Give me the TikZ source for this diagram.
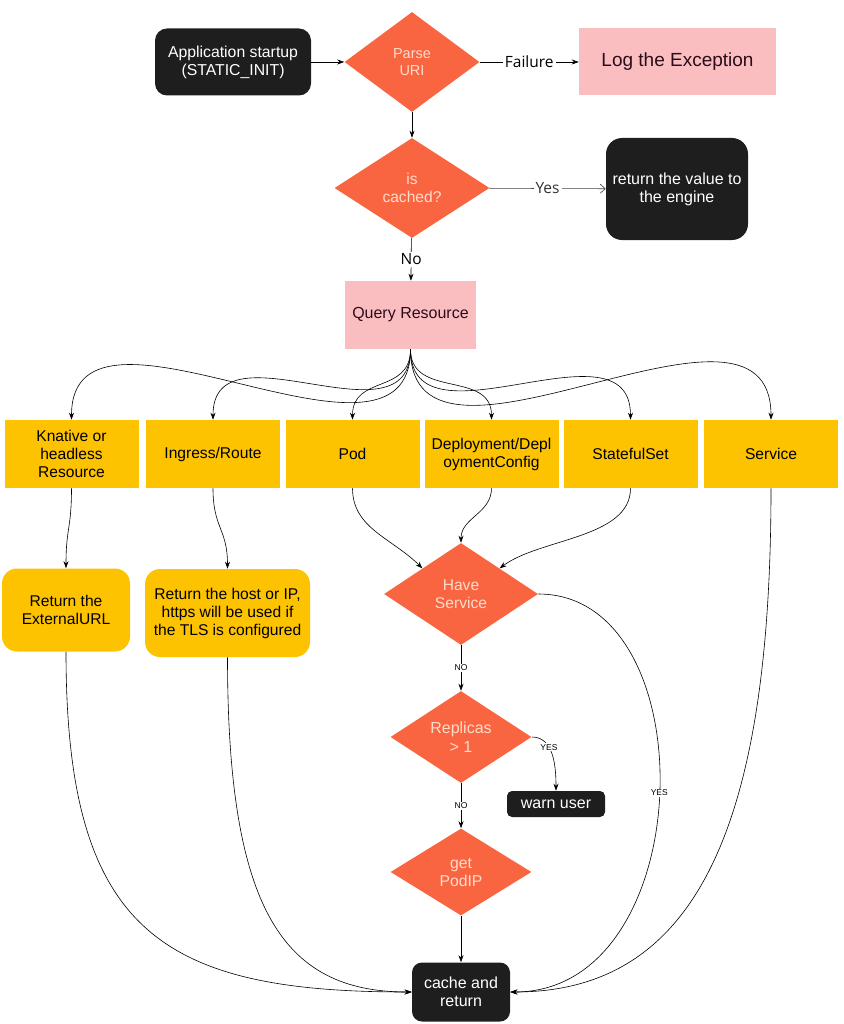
\documentclass[tikz,border=0pt]{standalone}
\usepackage{fontspec}
\setmainfont{Liberation Sans}
\newfontfamily\labelfont{Open Sans}
\usetikzlibrary{shapes.geometric,arrows.meta}
\definecolor{boxblack}{HTML}{1E1E1E}
\definecolor{decorange}{HTML}{FA6541}
\definecolor{dectext}{HTML}{FFDCCB}
\definecolor{boxpink}{HTML}{FBBEC0}
\definecolor{pinktext}{HTML}{2B0C1A}
\definecolor{boxyellow}{HTML}{FDC300}
\begin{document}
\begin{tikzpicture}[x=1pt,y=-1pt,line width=0.6pt,
  >={Stealth[length=7pt,width=5pt]},
  blackbox/.style={fill=boxblack,text=white,rounded corners=12pt,inner sep=2pt,align=center,font=\fontsize{15.8}{18}\selectfont},
  decision/.style={diamond,fill=decorange,text=dectext,inner sep=0pt,align=center,font=\fontsize{15.6}{18}\selectfont},
  pinkbox/.style={fill=boxpink,text=pinktext,align=center},
  kindbox/.style={fill=boxyellow,minimum width=134pt,minimum height=68pt,inner sep=1pt,align=center,font=\fontsize{15.6}{18}\selectfont},
  retbox/.style={fill=boxyellow,rounded corners=15pt,inner sep=1pt,align=center,font=\fontsize{15.6}{18}\selectfont},
  edgelabel/.style={fill=white,font=\labelfont\fontsize{15.5}{17}\selectfont,inner sep=2pt},
  smalllabel/.style={fill=white,font=\fontsize{8.5}{9}\selectfont,inner sep=1pt}]
\useasboundingbox (0,0) rectangle (843,1024);
\node[blackbox,minimum width=156pt,minimum height=67pt] (start) at (233,62) {Application startup\\(STATIC\_INIT)};
\node[decision,minimum width=135pt,minimum height=100pt,font=\fontsize{14.5}{17}\selectfont] (parse) at (412,62) {Parse\\URI};
\node[pinkbox,minimum width=197pt,minimum height=67pt,font=\fontsize{19}{22}\selectfont] (log) at (677.5,62) {Log the Exception};
\node[decision,minimum width=155pt,minimum height=100pt] (cached) at (412,188) {is\\cached?};
\node[blackbox,minimum width=142pt,minimum height=102pt,rounded corners=16pt,font=\fontsize{16}{18}\selectfont] (retval) at (677,189) {return the value to\\the engine};
\node[pinkbox,minimum width=131pt,minimum height=68pt,font=\fontsize{16}{18}\selectfont] (query) at (410.5,315) {Query Resource};
\foreach \n/\x/\t in {kn/71.5/{Knative or\\headless\\Resource},ing/213/{Ingress/Route},pod/352.5/Pod,dep/491.5/{Deployment/Depl\\oymentConfig},sts/630.5/StatefulSet,svc/771/Service}
  \node[kindbox] (\n) at (\x,454) {\t};
\foreach \n/\d in {kn/150,ing/100,pod/45,dep/50,sts/105,svc/160}
  \draw[->] (query.south) .. controls +(0,\d) and +(0,-\d) .. (\n.north);
\node[retbox,minimum width=128pt,minimum height=83pt] (ext) at (66,610) {Return the\\ExternalURL};
\node[retbox,minimum width=165pt,minimum height=88pt] (host) at (227.5,613) {Return the host or IP,\\https will be used if\\the TLS is configured};
\node[decision,minimum width=154pt,minimum height=102pt] (hs) at (461,594) {Have\\Service};
\node[decision,minimum width=141pt,minimum height=86pt,font=\fontsize{16}{19}\selectfont] (rep) at (461,737) {Replicas\\> 1};
\node[blackbox,minimum width=98pt,minimum height=26pt,rounded corners=5pt,font=\fontsize{16}{18}\selectfont] (warn) at (556,804) {warn user};
\node[decision,minimum width=141pt,minimum height=87pt,font=\fontsize{15.7}{18}\selectfont] (pip) at (461,872) {get\\PodIP};
\node[blackbox,minimum width=98pt,minimum height=59pt,rounded corners=10pt,font=\fontsize{16}{18}\selectfont] (cache) at (461,992) {cache and\\return};
\draw[->] (start) -- (parse);
\draw[->] (parse) -- node[edgelabel] {Failure} (log);
\draw[->] (parse) -- (cached);
\draw[-{Straight Barb[length=5pt,width=9pt]},draw=black!75] (cached) -- node[edgelabel,text=black!80] {Yes} (retval);
\draw[->] (cached) -- node[edgelabel] {No} (query);
\draw[->] (kn.south) .. controls +(0,40) and +(0,-40) .. (ext.north);
\draw[->] (ing.south) .. controls +(0,40) and +(0,-40) .. (host.north);
\draw[->] (pod.south) .. controls +(0,40) and +(-30,-30) .. (hs.north west);
\draw[->] (dep.south) .. controls +(0,25) and +(0,-25) .. (hs.north);
\draw[->] (sts.south) .. controls +(0,50) and +(40,-30) .. (hs.north east);
\draw[->] (hs) -- node[smalllabel] {NO} (rep);
\draw[->] (rep.east) .. controls +(20,0) and +(0,-30) .. node[smalllabel,pos=0.4] {YES} (warn.north);
\draw[->] (rep) -- node[smalllabel] {NO} (pip);
\draw[->] (pip) -- (cache);
\draw[->] (ext.south) .. controls +(0,280) and +(-250,0) .. (cache.west);
\draw[->] (host.south) .. controls +(0,250) and +(-130,0) .. (cache.west);
\draw[->] (hs.east) .. controls +(170,0) and +(190,0) .. node[smalllabel] {YES} (cache.east);
\draw[->] (svc.south) .. controls +(0,350) and +(180,0) .. (cache.east);
\end{tikzpicture}
\end{document}
